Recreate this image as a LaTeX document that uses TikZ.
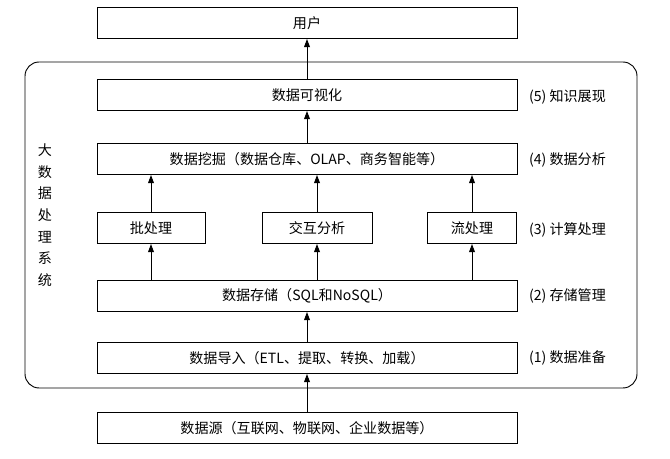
\documentclass[tikz,border=0pt]{standalone}
\usepackage{fontspec}
\setmainfont{Noto Sans CJK SC}
\usetikzlibrary{arrows.meta}
\begin{document}
\begin{tikzpicture}[x=0.03cm,y=-0.03cm,
  box/.style={draw,line width=0.8pt,minimum height=0.93cm,inner sep=0pt,font=\fontsize{12}{14}\selectfont},
  wide/.style={box,minimum width=12.6cm},
  lab/.style={font=\fontsize{12}{14}\selectfont,anchor=west},
  arr/.style={-{Triangle[length=7pt,width=5pt]},line width=0.8pt}]
\useasboundingbox (0,0) rectangle (670,459);
\draw[line width=0.8pt,rounded corners=12pt] (25,62) rectangle (637,388);
\node[wide] (user) at (307,23) {用户};
\node[wide] (vis) at (307,95) {数据可视化};
\node[wide] (mine) at (307,159) {数据挖掘（数据仓库、OLAP、商务智能等）};
\node[box,minimum width=3.24cm] (batch) at (151,228) {批处理};
\node[box,minimum width=3.3cm] (inter) at (317,228) {交互分析};
\node[box,minimum width=2.67cm] (stream) at (472,228) {流处理};
\node[wide] (store) at (307,296) {数据存储（SQL和NoSQL）};
\node[wide] (imp) at (307,358) {数据导入（ETL、提取、转换、加载）};
\node[wide] (src) at (307,428) {数据源（互联网、物联网、企业数据等）};
\node[lab] (l5) at (525,97) {(5) 知识展现};
\node[lab] (l4) at (525,160) {(4) 数据分析};
\node[lab] (l3) at (525,230) {(3) 计算处理};
\node[lab] (l2) at (525,296) {(2) 存储管理};
\node[lab] (l1) at (525,358) {(1) 数据准备};
\node[font=\fontsize{12}{18.5}\selectfont,align=center] (sys) at (45,215) {大\\数\\据\\处\\理\\系\\统};
\draw[arr] (src) -- (imp);
\draw[arr] (imp) -- (store);
\draw[arr] (store.north -| batch) -- (batch);
\draw[arr] (store.north -| inter) -- (inter);
\draw[arr] (store.north -| stream) -- (stream);
\draw[arr] (batch) -- (mine.south -| batch);
\draw[arr] (inter) -- (mine.south -| inter);
\draw[arr] (stream) -- (mine.south -| stream);
\draw[arr] (mine) -- (vis);
\draw[arr] (vis) -- (user);
\end{tikzpicture}
\end{document}
